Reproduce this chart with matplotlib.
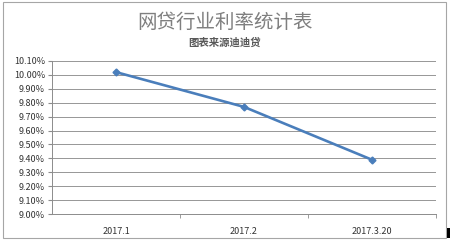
import matplotlib
matplotlib.use("Agg")
import matplotlib.pyplot as plt
from matplotlib.patches import Rectangle
from matplotlib.ticker import FuncFormatter, MultipleLocator

plt.rcParams['font.family'] = ['Noto Sans CJK SC', 'DejaVu Sans']

dates = ['2017.1', '2017.2', '2017.3.20']
rates = [10.02, 9.77, 9.39]

fig = plt.figure(figsize=(4.5, 2.44), dpi=100)
fig.patches.append(Rectangle((3/450, 6/244), 443/450, 236/244, transform=fig.transFigure,
                             fill=False, edgecolor='#a6a6a6', linewidth=0.8))
fig.patches.append(Rectangle((447/450, 6/244), 3/450, 10/244, transform=fig.transFigure,
                             facecolor='black', edgecolor='none'))

ax = fig.add_axes([52/450, 1 - 214/244, 384/450, 153/244])
x = list(range(len(dates)))
ax.plot(x, rates, color='#4a7ebb', linewidth=1.9, marker='D', markersize=3.5)

ax.set_xlim(-0.5, len(dates) - 0.5)
ax.set_ylim(9.0, 10.1)
ax.yaxis.set_major_locator(MultipleLocator(0.1))
ax.yaxis.set_major_formatter(FuncFormatter(lambda v, p: f'{v:.2f}%'))
ax.grid(axis='y', color='#969696', linewidth=0.7)
ax.set_axisbelow(True)

ax.set_xticks(x)
ax.set_xticklabels(dates)
ax.set_xticks([i + 0.5 for i in x], minor=True)
ax.tick_params(axis='x', which='major', length=0, pad=9, labelsize=6.5, labelcolor='#333333')
ax.tick_params(axis='x', which='minor', length=3, color='#8c8c8c', direction='out')
ax.tick_params(axis='y', length=3, color='#8c8c8c', labelsize=6.5, labelcolor='#333333', pad=2)

for s in ['top', 'right']:
    ax.spines[s].set_visible(False)
ax.spines['left'].set_color('#8c8c8c')
ax.spines['bottom'].set_color('#8c8c8c')
ax.spines['left'].set_linewidth(0.7)
ax.spines['bottom'].set_linewidth(0.7)

fig.text(0.5, 1 - 22/244, '网贷行业利率统计表', ha='center', va='center', fontsize=14, color='#7f7f7f')
fig.text(0.5, 1 - 43/244, '图表来源迪迪贷', ha='center', va='center', fontsize=7.5, color='#595959', fontweight='bold')

fig.savefig('out.png', dpi=100)
